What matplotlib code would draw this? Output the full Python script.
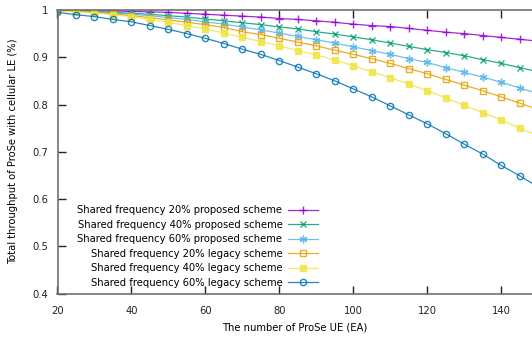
import matplotlib
matplotlib.use("Agg")
import matplotlib.pyplot as plt

x_ue = [20, 25, 30, 35, 40, 45, 50, 55, 60, 65, 70, 75, 80, 85, 90, 95, 100,
        105, 110, 115, 120, 125, 130, 135, 140, 145, 150]

prop_20 = [1.000, 1.000, 0.999, 0.998, 0.997, 0.996, 0.995, 0.993, 0.991, 0.989, 0.987, 0.985, 0.982,
           0.980, 0.977, 0.974, 0.970, 0.967, 0.965, 0.961, 0.957, 0.953, 0.950, 0.946, 0.942, 0.938, 0.934]
prop_40 = [1.000, 0.999, 0.997, 0.995, 0.993, 0.991, 0.988, 0.985, 0.981, 0.977, 0.973, 0.969, 0.964,
           0.960, 0.954, 0.949, 0.943, 0.937, 0.930, 0.923, 0.916, 0.910, 0.903, 0.895, 0.887, 0.878, 0.869]
prop_60 = [1.000, 0.998, 0.996, 0.994, 0.991, 0.988, 0.984, 0.980, 0.975, 0.970, 0.964, 0.958, 0.951,
           0.944, 0.937, 0.930, 0.922, 0.914, 0.906, 0.897, 0.889, 0.878, 0.868, 0.858, 0.847, 0.835, 0.823]
leg_20 = [1.000, 0.998, 0.995, 0.992, 0.988, 0.984, 0.979, 0.974, 0.969, 0.963, 0.954, 0.948, 0.940,
          0.932, 0.924, 0.915, 0.906, 0.897, 0.887, 0.876, 0.865, 0.853, 0.841, 0.829, 0.816, 0.803, 0.789]
leg_40 = [0.998, 0.996, 0.994, 0.990, 0.986, 0.980, 0.974, 0.967, 0.960, 0.951, 0.942, 0.933, 0.924,
          0.914, 0.905, 0.894, 0.882, 0.869, 0.857, 0.843, 0.829, 0.814, 0.798, 0.783, 0.767, 0.750, 0.733]
leg_60 = [0.995, 0.990, 0.986, 0.980, 0.975, 0.967, 0.959, 0.950, 0.940, 0.929, 0.917, 0.906, 0.893,
          0.879, 0.865, 0.850, 0.833, 0.816, 0.797, 0.778, 0.759, 0.738, 0.716, 0.695, 0.671, 0.649, 0.625]

labels = ["Shared frequency 20% proposed scheme",
          "Shared frequency 40% proposed scheme",
          "Shared frequency 60% proposed scheme",
          "Shared frequency 20% legacy scheme",
          "Shared frequency 40% legacy scheme",
          "Shared frequency 60% legacy scheme"]
series = [prop_20, prop_40, prop_60, leg_20, leg_40, leg_60]
colors = ["#9400d3", "#009e73", "#56b4e9", "#e69f00", "#f0e442", "#0072b2"]
markers = ["+", "x", (6, 2, 0), "s", "s", "o"]
fills = ["full", "full", "full", "none", "full", "none"]
msizes = [6, 5, 5.5, 4.5, 4.5, 4.5]

x_ticks = [20, 40, 60, 80, 100, 120, 140]
y_ticks = [0.4, 0.5, 0.6, 0.7, 0.8, 0.9, 1.0]
y_ticklabels = ["0.4", "0.5", "0.6", "0.7", "0.8", "0.9", "1"]

plt.rcParams["font.family"] = ["DejaVu Sans"]
fig = plt.figure(figsize=(5.32, 3.39), dpi=100)
ax = fig.add_axes([57.5 / 532, (339 - 293.5) / 339, (532 - 57.5) / 532, 283.5 / 339])

for y, lab, c, m, f, ms in zip(series, labels, colors, markers, fills, msizes):
    ax.plot(x_ue, y, color=c, lw=0.9, alpha=0.85, marker=m, fillstyle=f,
            markersize=ms, markeredgewidth=1.0, label=lab, clip_on=True)

ax.set_xlim(20, 148.3)
ax.set_ylim(0.4, 1.0)
ax.set_xticks(x_ticks)
ax.set_yticks(y_ticks)
ax.set_yticklabels(y_ticklabels)
ax.tick_params(direction="in", length=6, width=1, labelsize=7.2, colors="#222222",
               top=True, right=False)
ax.tick_params(axis="x", pad=9)
ax.tick_params(axis="y", pad=7)
for s in ["left", "bottom", "top"]:
    ax.spines[s].set_color("#707070")
    ax.spines[s].set_linewidth(1.2)
ax.spines["right"].set_visible(False)

ax.set_xlabel("The number of ProSe UE (EA)", fontsize=7.2, labelpad=5)
ax.set_ylabel("Total throughput of ProSe with cellular LE (%)", fontsize=7.2, labelpad=10)

leg = ax.legend(loc="lower right", bbox_to_anchor=(0.55, 0.02), frameon=False,
                markerfirst=False, fontsize=7.2, handlelength=3.0, handletextpad=0.6,
                labelspacing=0.45, borderpad=0, borderaxespad=0)

fig.savefig("out.png", dpi=100)
